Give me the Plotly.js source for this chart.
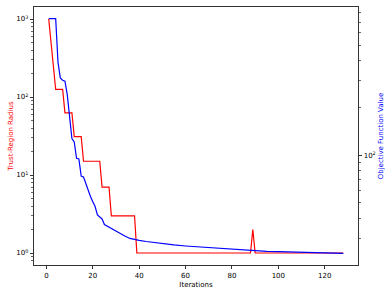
<!DOCTYPE html>
<html>
<head>
<meta charset="utf-8">
<script src="https://cdn.plot.ly/plotly-3.0.1.min.js"></script>
<style>html,body{margin:0;padding:0;background:#fff;}#chart{width:392px;height:294px;}</style>
</head>
<body>
<div id="chart"></div>
<script>
// Trust-region radius (left axis), change points per iteration
const radiusIter = [1, 2, 3, 4, 7, 8, 11, 12, 15, 16, 23, 24, 27, 28, 38, 39, 88, 89, 90, 128];
const radiusVal  = [1000, 500, 250, 125, 125, 62.5, 62.5, 31, 31, 15, 15, 7, 7, 3, 3, 1, 1, 2, 1, 1];

// Objective function value (right axis)
const objIter = [1, 2, 3, 4, 5, 6, 7, 8, 9, 10, 11, 12, 13, 14, 15, 16, 17, 18, 19, 20, 21, 22, 23, 24, 25, 26, 27, 28, 30, 32, 34, 36, 38, 40, 43, 46, 50, 55, 60, 65, 70, 75, 80, 85, 90, 95, 100, 105, 110, 115, 120, 128];
const objVal  = [736, 736, 736, 736, 390, 310, 300, 296, 242, 168, 128, 122, 96, 95, 74, 73, 66, 59, 55, 51, 47.5, 42, 40.5, 39.6, 36.5, 35.8, 35.2, 34.5, 33, 31.9, 30.8, 29.8, 29.3, 29, 28.5, 28.1, 27.6, 27.1, 26.7, 26.4, 26, 25.7, 25.4, 25.1, 24.9, 24.7, 24.6, 24.5, 24.4, 24.2, 24.1, 24.0];

const xTicks = [0, 20, 40, 60, 80, 100, 120];
const leftMajor = [1, 10, 100, 1000];
const leftMajorText = ["10<sup>0</sup>", "10<sup>1</sup>", "10<sup>2</sup>", "10<sup>3</sup>"];
const rightMajor = [100];
const rightMajorText = ["10<sup>2</sup>"];

function minorLog(lo, hi) {
  const out = [];
  for (let e = -1; e <= 3; e++) {
    for (let k = 2; k <= 9; k++) {
      const v = k * Math.pow(10, e);
      if (v > lo && v < hi) out.push(v);
    }
  }
  return out;
}

const font = {family: "DejaVu Sans", size: 7, color: "#000"};

const traces = [
  {x: radiusIter, y: radiusVal, type: "scatter", mode: "lines", line: {color: "#ff0000", width: 1.2}, yaxis: "y", hoverinfo: "skip"},
  {x: objIter, y: objVal, type: "scatter", mode: "lines", line: {color: "#0000ff", width: 1.2}, yaxis: "y2", hoverinfo: "skip"}
];

const layout = {
  width: 392, height: 294,
  margin: {l: 34, r: 34, t: 7, b: 29, pad: 0},
  paper_bgcolor: "#fff", plot_bgcolor: "#fff",
  showlegend: false,
  font: font,
  xaxis: {
    range: [-5.35, 134.35], showgrid: false, zeroline: false,
    tickmode: "array", tickvals: xTicks,
    ticks: "outside", ticklen: 3.5, tickwidth: 0.8, tickcolor: "#000",
    showline: true, linecolor: "#000", linewidth: 0.8, mirror: true,
    tickfont: font,
    title: {text: "Iterations", font: font, standoff: 3}
  },
  yaxis: {
    type: "log", range: [-0.1538, 3.1538], showgrid: false, zeroline: false,
    tickmode: "array", tickvals: leftMajor, ticktext: leftMajorText,
    ticks: "outside", ticklen: 3.5, tickwidth: 0.8, tickcolor: "#000",
    minor: {tickmode: "array", tickvals: minorLog(0.7, 1430), ticks: "outside", ticklen: 2, tickwidth: 0.6, tickcolor: "#000", showgrid: false},
    showline: true, linecolor: "#000", linewidth: 0.8, mirror: false,
    tickfont: font,
    title: {text: "Trust-Region Radius", font: {family: "DejaVu Sans", size: 7, color: "#ff0000"}, standoff: 1}
  },
  yaxis2: {
    type: "log", range: [1.306, 2.941], overlaying: "y", side: "right",
    showgrid: false, zeroline: false,
    tickmode: "array", tickvals: rightMajor, ticktext: rightMajorText,
    ticks: "outside", ticklen: 3.5, tickwidth: 0.8, tickcolor: "#000",
    minor: {tickmode: "array", tickvals: minorLog(20.3, 872), ticks: "outside", ticklen: 2, tickwidth: 0.6, tickcolor: "#000", showgrid: false},
    showline: true, linecolor: "#000", linewidth: 0.8,
    tickfont: font,
    title: {text: "Objective Function Value", font: {family: "DejaVu Sans", size: 7, color: "#0000ff"}, standoff: 3}
  }
};

Plotly.newPlot("chart", traces, layout, {staticPlot: true, displayModeBar: false});
</script>
</body>
</html>
